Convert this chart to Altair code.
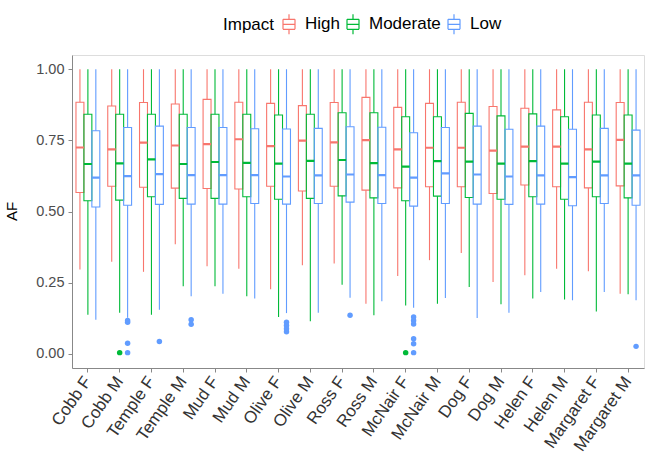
import altair as alt
import pandas as pd

samples = ["Cobb F", "Cobb M", "Temple F", "Temple M", "Mud F", "Mud M",
           "Olive F", "Olive M", "Ross F", "Ross M", "McNair F", "McNair M",
           "Dog F", "Dog M", "Helen F", "Helen M", "Margaret F", "Margaret M"]
impacts = ["High", "Moderate", "Low"]
colors = ["#F8766D", "#00BA38", "#619CFF"]

high_lo = [0.296, 0.323, 0.288, 0.385, 0.308, 0.299, 0.227, 0.311, 0.317, 0.176, 0.273, 0.329, 0.354, 0.252, 0.276, 0.299, 0.290, 0.211]
high_q1 = [0.567, 0.589, 0.585, 0.582, 0.581, 0.579, 0.589, 0.572, 0.589, 0.575, 0.583, 0.587, 0.587, 0.563, 0.593, 0.587, 0.583, 0.590]
high_med = [0.725, 0.718, 0.742, 0.732, 0.737, 0.754, 0.730, 0.749, 0.743, 0.751, 0.718, 0.724, 0.724, 0.714, 0.728, 0.728, 0.718, 0.752]
high_q3 = [0.884, 0.871, 0.883, 0.878, 0.894, 0.884, 0.880, 0.872, 0.883, 0.901, 0.866, 0.880, 0.884, 0.869, 0.863, 0.857, 0.884, 0.883]
high_hi = [1.0] * 18

mod_lo = [0.137, 0.144, 0.137, 0.237, 0.237, 0.202, 0.129, 0.114, 0.243, 0.135, 0.170, 0.176, 0.235, 0.174, 0.194, 0.191, 0.149, 0.209]
mod_q1 = [0.538, 0.540, 0.552, 0.546, 0.546, 0.552, 0.543, 0.546, 0.555, 0.548, 0.538, 0.554, 0.549, 0.543, 0.552, 0.543, 0.552, 0.548]
mod_med = [0.667, 0.669, 0.683, 0.667, 0.674, 0.671, 0.668, 0.678, 0.681, 0.670, 0.658, 0.677, 0.675, 0.668, 0.677, 0.668, 0.675, 0.668]
mod_q3 = [0.842, 0.842, 0.842, 0.842, 0.842, 0.842, 0.839, 0.842, 0.847, 0.847, 0.833, 0.833, 0.845, 0.836, 0.843, 0.833, 0.839, 0.839]
mod_hi = [1.0] * 18

low_lo = [0.120, 0.127, 0.155, 0.202, 0.211, 0.194, 0.143, 0.144, 0.197, 0.185, 0.162, 0.196, 0.126, 0.144, 0.217, 0.188, 0.217, 0.188]
low_q1 = [0.516, 0.522, 0.525, 0.526, 0.526, 0.528, 0.526, 0.528, 0.533, 0.528, 0.519, 0.528, 0.526, 0.525, 0.526, 0.520, 0.528, 0.522]
low_med = [0.619, 0.624, 0.631, 0.628, 0.628, 0.628, 0.623, 0.627, 0.630, 0.628, 0.619, 0.634, 0.630, 0.623, 0.627, 0.621, 0.627, 0.627]
low_q3 = [0.784, 0.795, 0.800, 0.795, 0.795, 0.791, 0.790, 0.792, 0.798, 0.796, 0.777, 0.795, 0.800, 0.789, 0.800, 0.789, 0.792, 0.786]
low_hi = [1.0] * 18

out_sample = ["Cobb M", "Cobb M", "Cobb M", "Cobb M", "Cobb M", "Temple F", "Temple M", "Temple M",
              "Olive F", "Olive F", "Olive F", "Olive F", "Ross F",
              "McNair F", "McNair F", "McNair F", "McNair F", "McNair F", "McNair F", "McNair F",
              "Margaret M"]
out_impact = ["Low", "Low", "Low", "Low", "Moderate", "Low", "Low", "Low",
              "Low", "Low", "Low", "Low", "Low",
              "Low", "Low", "Low", "Low", "Low", "Low", "Moderate",
              "Low"]
out_value = [0.117, 0.111, 0.037, 0.004, 0.004, 0.043, 0.120, 0.104,
             0.111, 0.099, 0.088, 0.077, 0.135,
             0.129, 0.117, 0.105, 0.053, 0.035, 0.004, 0.004,
             0.026]

rows = []
for imp, lo, q1, med, q3, hi in [
    ("High", high_lo, high_q1, high_med, high_q3, high_hi),
    ("Moderate", mod_lo, mod_q1, mod_med, mod_q3, mod_hi),
    ("Low", low_lo, low_q1, low_med, low_q3, low_hi),
]:
    for i, s in enumerate(samples):
        rows.append({"Sample": s, "Impact": imp, "lo": lo[i], "q1": q1[i],
                     "med": med[i], "q3": q3[i], "hi": hi[i]})
box_df = pd.DataFrame(rows)
out_df = pd.DataFrame({"Sample": out_sample, "Impact": out_impact,
                       "Group": out_impact, "AF": out_value})

FONT = "Liberation Sans"

x_enc = alt.X("Sample:N", sort=samples, title=None,
              scale=alt.Scale(domain=samples, paddingInner=0.25, paddingOuter=0.125),
              axis=alt.Axis(labelAngle=-55, labelAlign="right", labelBaseline="middle",
                            labelFontSize=17, labelColor="#333333", labelPadding=6,
                            tickSize=4, labelFont=FONT))
xo_enc = alt.XOffset("Impact:N", sort=impacts,
                     scale=alt.Scale(domain=impacts, paddingInner=0, paddingOuter=0))
y_scale = alt.Scale(domain=[-0.05, 1.05], nice=False, zero=False)
y_axis = alt.Axis(values=[0, 0.25, 0.5, 0.75, 1.0], format=".2f", grid=False,
                  labelFontSize=14.5, labelColor="#4d4d4d", labelPadding=4, tickSize=4,
                  titleFontSize=15, titleFontWeight="normal", titleColor="black",
                  titleAngle=270, titleX=-56, titleY=156, titleAlign="center",
                  titleBaseline="alphabetic", labelFont=FONT, titleFont=FONT)

# legend glyph built only from straight open segments, so it can never look filled
box_path = ("M-0.6,-0.5L0.6,-0.5 M0.6,-0.5L0.6,0.5 M0.6,0.5L-0.6,0.5 M-0.6,0.5L-0.6,-0.5 "
            "M-0.6,0L0.6,0 M0,-0.5L0,-1 M0,0.5L0,1")
legend = alt.Legend(orient="none", legendX=151, legendY=-42, direction="horizontal",
                    title="Impact", titleOrient="left", titleFontSize=17,
                    titleFontWeight="normal", titleColor="black", titleFont=FONT,
                    labelFontSize=17, labelColor="black", labelFont=FONT,
                    symbolType=box_path, symbolSize=400, symbolStrokeWidth=1.2,
                    symbolFillColor="transparent", labelOffset=5, columnPadding=2,
                    titlePadding=3)
color_enc = alt.Color("Impact:N", sort=impacts,
                      scale=alt.Scale(domain=impacts, range=colors), legend=legend)

base = alt.Chart(box_df)
y_lo = alt.Y("lo:Q", scale=y_scale, axis=y_axis, title="AF")

box = base.mark_bar(filled=False, strokeWidth=1.1).encode(
    x=x_enc, xOffset=xo_enc,
    y=alt.Y("q1:Q", scale=y_scale, axis=y_axis, title="AF"),
    y2="q3:Q",
    color=color_enc,
)
whisk_low = base.mark_rule(strokeWidth=1.1).encode(
    x=x_enc, xOffset=xo_enc, y=y_lo, y2="q1:Q", color=color_enc,
)
whisk_high = base.mark_rule(strokeWidth=1.1).encode(
    x=x_enc, xOffset=xo_enc,
    y=alt.Y("q3:Q", scale=y_scale, axis=y_axis, title="AF"),
    y2="hi:Q", color=color_enc,
)
median = base.mark_bar(filled=False, strokeWidth=2.2).encode(
    x=x_enc, xOffset=xo_enc,
    y=alt.Y("med:Q", scale=y_scale, axis=y_axis, title="AF"),
    y2="med:Q",
    color=color_enc,
)
pts = alt.Chart(out_df).mark_circle(size=30, opacity=1).encode(
    x=x_enc, xOffset=xo_enc,
    y=alt.Y("AF:Q", scale=y_scale, axis=y_axis, title="AF"),
    fill=alt.Fill("Group:N", sort=impacts,
                  scale=alt.Scale(domain=impacts, range=colors), legend=None),
)

chart = alt.layer(box, whisk_low, whisk_high, median, pts).properties(
    width=572, height=313,
    autosize=alt.AutoSizeParams(type="none"),
    padding={"left": 72, "top": 55, "right": 1, "bottom": 91},
).configure_view(stroke=None).configure_axis(
    domainColor="#333333", tickColor="#333333", domainWidth=1.1, tickWidth=1.1
).configure(font=FONT, background="white")

chart.save("out.html", embed_options={"renderer": "svg", "actions": False})
